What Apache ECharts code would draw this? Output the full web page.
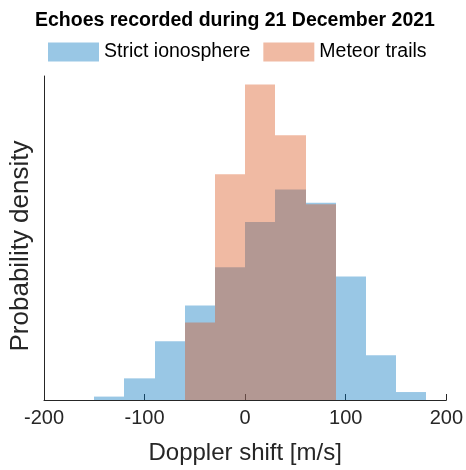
<!DOCTYPE html>
<html>
<head>
<meta charset="utf-8">
<script src="https://cdn.jsdelivr.net/npm/echarts@6/dist/echarts.min.js"></script>
<style>
  html, body { margin: 0; padding: 0; background: #fff; }
  #chart { width: 466px; height: 470px; }
</style>
</head>
<body>
<div id="chart"></div>
<script>
// histogram bins (left edges, width 30 m/s) and density values
const binWidth = 30
const ionoBins = [-150, -120, -90, -60, -30, 0, 30, 60, 90, 120, 150]
const ionoValues = [0.000105, 0.000668, 0.00181, 0.00292, 0.00410, 0.00549, 0.00650, 0.00609, 0.00381, 0.00138, 0.000246]
const meteorBins = [-60, -30, 0, 30, 60]
const meteorValues = [0.00239, 0.00697, 0.00974, 0.00817, 0.00604]
const xTicks = [-200, 200, 100]

function toRows(bins, values) {
  return bins.map((b, i) => [b, b + binWidth, values[i]])
}

// snap bin edges to whole pixels so neighbouring bars don't leave seams
function renderBin(params, api) {
  const p0 = api.coord([api.value(0), api.value(2)])
  const p1 = api.coord([api.value(1), 0])
  const x0 = Math.round(p0[0])
  const x1 = Math.round(p1[0])
  return {
    type: 'rect',
    shape: { x: x0, y: p0[1], width: x1 - x0, height: p1[1] - p0[1] },
    style: api.style()
  }
}

const chart = echarts.init(document.getElementById('chart'))
const font = 'Liberation Sans, Arial, sans-serif'

chart.setOption({
  animation: false,
  title: {
    text: 'Echoes recorded during 21 December 2021',
    left: 30,
    top: 6,
    textStyle: { fontFamily: font, fontSize: 19.5, fontWeight: 'bold', color: '#000' }
  },
  legend: {
    top: 37,
    left: 43,
    icon: 'rect',
    itemWidth: 51,
    itemHeight: 19,
    itemGap: 13,
    textStyle: { fontFamily: font, fontSize: 19.5, color: '#000' },
    data: ['Strict ionosphere', 'Meteor trails']
  },
  grid: { left: 43, right: 19, top: 76, bottom: 69 },
  xAxis: {
    type: 'value',
    min: xTicks[0],
    max: xTicks[1],
    interval: xTicks[2],
    name: 'Doppler shift [m/s]',
    nameLocation: 'middle',
    nameGap: 41,
    nameTextStyle: { fontFamily: font, fontSize: 24, color: '#262626' },
    axisLine: { onZero: false, lineStyle: { color: '#262626', width: 1 } },
    axisTick: { inside: true, length: 6, lineStyle: { color: '#262626' } },
    axisLabel: { fontFamily: font, fontSize: 20, color: '#262626', margin: 8 },
    splitLine: { show: false }
  },
  yAxis: {
    type: 'value',
    min: 0,
    max: 0.01,
    name: 'Probability density',
    nameLocation: 'middle',
    nameGap: 10,
    nameTextStyle: { fontFamily: font, fontSize: 26, color: '#262626', padding: [0, 16, 0, 0] },
    axisLine: { show: true, onZero: false, lineStyle: { color: '#262626', width: 1 } },
    axisTick: { show: false },
    axisLabel: { show: false },
    splitLine: { show: false }
  },
  series: [
    {
      name: 'Strict ionosphere',
      type: 'custom',
      renderItem: renderBin,
      encode: { x: [0, 1], y: 2 },
      itemStyle: { color: 'rgba(0,114,189,0.4)' },
      data: toRows(ionoBins, ionoValues)
    },
    {
      name: 'Meteor trails',
      type: 'custom',
      renderItem: renderBin,
      encode: { x: [0, 1], y: 2 },
      itemStyle: { color: 'rgba(217,83,25,0.4)' },
      data: toRows(meteorBins, meteorValues)
    }
  ]
})
</script>
</body>
</html>
